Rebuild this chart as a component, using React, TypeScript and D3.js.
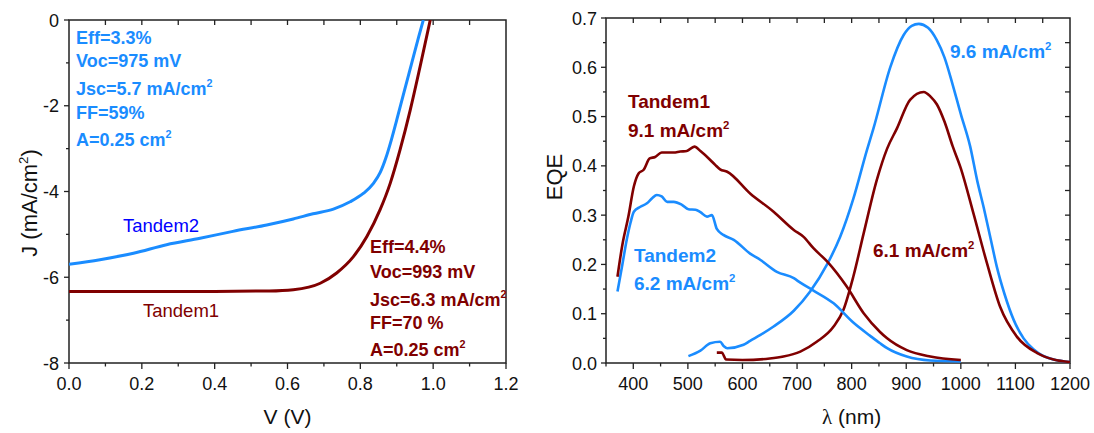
import React from "react";
import * as d3 from "d3";

// ---------- Data ----------
// J-V curves (V in volts, J in mA/cm^2)
const tandem2JV: [number, number][] = [
  [0.0, -5.7], [0.085, -5.59], [0.177, -5.44], [0.268, -5.24], [0.36, -5.09],
  [0.45, -4.93], [0.543, -4.78], [0.616, -4.64], [0.67, -4.52], [0.726, -4.41],
  [0.772, -4.24], [0.809, -4.04], [0.836, -3.81], [0.855, -3.55], [0.87, -3.22],
  [0.885, -2.8], [0.9, -2.33], [0.92, -1.68], [0.94, -1.04], [0.96, -0.4], [0.973, 0.0],
];
const tandem1JV: [number, number][] = [
  [0.0, -6.33], [0.2, -6.33], [0.4, -6.33], [0.55, -6.32], [0.616, -6.29],
  [0.69, -6.14], [0.735, -5.9], [0.781, -5.52], [0.818, -5.05], [0.854, -4.43],
  [0.882, -3.81], [0.909, -3.03], [0.937, -2.1], [0.964, -1.09], [0.992, 0.0],
];

// EQE curves (wavelength nm, EQE)
const tandem1Front: [number, number][] = [
  [371, 0.175], [380, 0.24], [391, 0.297], [401, 0.358], [410, 0.385], [419, 0.392],
  [430, 0.415], [440, 0.418], [452, 0.427], [474, 0.427], [486, 0.429], [498, 0.43],
  [512, 0.439], [523, 0.43], [541, 0.412], [550, 0.402], [559, 0.393], [572, 0.388],
  [614, 0.344], [657, 0.307], [694, 0.27], [712, 0.256], [730, 0.233], [755, 0.206],
  [791, 0.155], [822, 0.101], [852, 0.063], [865, 0.05], [901, 0.026], [944, 0.013],
  [1000, 0.006],
];
const tandem2Front: [number, number][] = [
  [371, 0.145], [380, 0.2], [388, 0.25], [395, 0.285], [401, 0.307], [413, 0.317],
  [425, 0.324], [435, 0.335], [443, 0.341], [452, 0.338], [462, 0.327], [474, 0.327],
  [489, 0.321], [501, 0.312], [514, 0.311], [523, 0.306], [535, 0.297], [544, 0.3],
  [553, 0.272], [565, 0.26], [584, 0.25], [614, 0.222], [633, 0.209], [663, 0.185],
  [694, 0.172], [706, 0.163], [730, 0.147], [767, 0.121], [803, 0.082], [834, 0.055],
  [852, 0.04], [865, 0.03], [901, 0.013], [944, 0.005], [1000, 0.003],
];
const tandem1Rear: [number, number][] = [
  [553, 0.021], [562, 0.021], [570, 0.007], [600, 0.006], [650, 0.009], [675, 0.013],
  [706, 0.023], [736, 0.043], [767, 0.074], [785, 0.108], [803, 0.175], [822, 0.263],
  [846, 0.371], [865, 0.435], [883, 0.476], [907, 0.534], [932, 0.55], [945, 0.54],
  [956, 0.525], [970, 0.49], [985, 0.44], [1000, 0.395], [1023, 0.304], [1048, 0.202],
  [1072, 0.114], [1103, 0.053], [1140, 0.02], [1170, 0.007], [1200, 0.002],
];
const tandem2Rear: [number, number][] = [
  [501, 0.014], [523, 0.025], [541, 0.04], [559, 0.043], [566, 0.034], [572, 0.03],
  [602, 0.037], [614, 0.045], [633, 0.057], [657, 0.074], [694, 0.106], [724, 0.145],
  [755, 0.2], [779, 0.256], [803, 0.333], [828, 0.432], [840, 0.476], [871, 0.601],
  [895, 0.665], [910, 0.684], [923, 0.688], [940, 0.68], [956, 0.655], [970, 0.62],
  [985, 0.565], [1000, 0.505], [1017, 0.44], [1030, 0.37], [1042, 0.315], [1055, 0.25],
  [1066, 0.195], [1080, 0.14], [1097, 0.087], [1115, 0.05], [1133, 0.028], [1150, 0.015],
  [1170, 0.007], [1200, 0.002],
];

const vTicks = [0, 0.2, 0.4, 0.6, 0.8, 1.0, 1.2];
const jTicks = [0, -2, -4, -6, -8];
const lamTicks = [400, 500, 600, 700, 800, 900, 1000, 1100, 1200];
const eqeTicks = [0, 0.1, 0.2, 0.3, 0.4, 0.5, 0.6, 0.7];

const tandem2Stats = ["Eff=3.3%", "Voc=975 mV", "Jsc=5.7 mA/cm", "FF=59%", "A=0.25 cm"];
const tandem1Stats = ["Eff=4.4%", "Voc=993 mV", "Jsc=6.3 mA/cm", "FF=70 %", "A=0.25 cm"];

// ---------- Styles ----------
const BLUE = "#1a8cff";
const RED = "#800000";
const AX = "#222";
const FONT = "'Liberation Sans', Arial, Helvetica, sans-serif";

const range = (a: number, b: number, s: number) => {
  const out: number[] = [];
  for (let v = a; v <= b + 1e-9; v += s) out.push(+v.toFixed(6));
  return out;
};

function Sup({ children }: { children: string }) {
  return (
    <tspan fontSize="0.6em" dy="-0.7em">
      {children}
    </tspan>
  );
}

export default function App() {
  // Left panel scales
  const xV = d3.scaleLinear().domain([0, 1.2]).range([69, 506]);
  const yJ = d3.scaleLinear().domain([-8, 0]).range([363, 20]);
  // Right panel scales
  const xL = d3.scaleLinear().domain([350, 1200]).range([606, 1070]);
  const yE = d3.scaleLinear().domain([0, 0.7]).range([363, 18]);

  const lineJV = d3
    .line<[number, number]>()
    .x((d) => xV(d[0]))
    .y((d) => yJ(d[1]))
    .curve(d3.curveMonotoneX);
  const lineEQE = d3
    .line<[number, number]>()
    .x((d) => xL(d[0]))
    .y((d) => yE(d[1]))
    .curve(d3.curveMonotoneX);

  const statLines = (
    stats: string[],
    x: number,
    baselines: number[],
    color: string
  ) =>
    stats.map((s, i) => (
      <text
        key={s}
        x={x}
        y={baselines[i]}
        fill={color}
        fontWeight="bold"
        fontSize={18}
        fontFamily={FONT}
      >
        {s}
        {i === 2 || i === 4 ? <Sup>2</Sup> : null}
      </text>
    ));

  return (
    <svg
      width={1094}
      height={433}
      style={{ position: "absolute", left: 0, top: 0, background: "#fff" }}
      fontFamily={FONT}
    >
      <rect width={1094} height={433} fill="#fff" />
      {/* ---------- Left panel ---------- */}
      <g>
        <rect
          x={xV(0)}
          y={yJ(0)}
          width={xV(1.2) - xV(0)}
          height={yJ(-8) - yJ(0)}
          fill="none"
          stroke={AX}
          strokeWidth={1.5}
        />
        {range(0, 1.2, 0.1).map((v, i) => (
          <line
            key={"vb" + i}
            x1={xV(v)}
            x2={xV(v)}
            y1={yJ(-8)}
            y2={yJ(-8) + (i % 2 === 0 ? 6 : 3.5)}
            stroke={AX}
            strokeWidth={1.3}
          />
        ))}
        {range(0.1, 1.1, 0.1).map((v, i) => (
          <line
            key={"vt" + i}
            x1={xV(v)}
            x2={xV(v)}
            y1={yJ(0)}
            y2={yJ(0) + 5}
            stroke={AX}
            strokeWidth={1.3}
          />
        ))}
        {range(-8, 0, 1).map((v, i) => (
          <line
            key={"jl" + i}
            x1={xV(0)}
            x2={xV(0) - (i % 2 === 0 ? 5 : 3)}
            y1={yJ(v)}
            y2={yJ(v)}
            stroke={AX}
            strokeWidth={1.3}
          />
        ))}
        {vTicks.map((v) => (
          <text
            key={"vl" + v}
            x={xV(v)}
            y={390}
            textAnchor="middle"
            fontSize={18}
            fill="#111"
          >
            {d3.format(".1f")(v)}
          </text>
        ))}
        {jTicks.map((v) => (
          <text
            key={"jt" + v}
            x={59}
            y={yJ(v) + 6.5}
            textAnchor="end"
            fontSize={18}
            fill="#111"
          >
            {v}
          </text>
        ))}
        <text x={xV(0.6)} y={424} textAnchor="middle" fontSize={21} fill="#111">
          V (V)
        </text>
        <text
          transform={`translate(37,203) rotate(-90)`}
          textAnchor="middle"
          fontSize={22}
          fill="#111"
        >
          J (mA/cm
          <tspan fontSize="0.6em" dy="-0.7em">
            2
          </tspan>
          <tspan dy="0.42em">)</tspan>
        </text>
        <defs>
          <clipPath id="clipL">
            <rect x={xV(0)} y={yJ(0)} width={xV(1.2) - xV(0)} height={yJ(-8) - yJ(0)} />
          </clipPath>
        </defs>
        <g clipPath="url(#clipL)">
          <path d={lineJV(tandem1JV) || ""} fill="none" stroke={RED} strokeWidth={3} />
          <path d={lineJV(tandem2JV) || ""} fill="none" stroke={BLUE} strokeWidth={3} />
        </g>
        {statLines(tandem2Stats, 76, [44, 67, 95, 119, 146], BLUE)}
        {statLines(tandem1Stats, 370, [253, 278, 306, 329, 356], RED)}
        <text x={123} y={232} fill="#0000ff" fontSize={18.5}>
          Tandem2
        </text>
        <text x={143} y={317} fill={RED} fontSize={18.5}>
          Tandem1
        </text>
      </g>

      {/* ---------- Right panel ---------- */}
      <g>
        <rect
          x={xL(350)}
          y={yE(0.7)}
          width={xL(1200) - xL(350)}
          height={yE(0) - yE(0.7)}
          fill="none"
          stroke={AX}
          strokeWidth={1.5}
        />
        {range(350, 1200, 50).map((v, i) => (
          <line
            key={"lb" + i}
            x1={xL(v)}
            x2={xL(v)}
            y1={yE(0)}
            y2={yE(0) + (v % 100 === 0 ? 6 : 3.5)}
            stroke={AX}
            strokeWidth={1.3}
          />
        ))}
        {range(400, 1150, 50).map((v, i) => (
          <line
            key={"lt" + i}
            x1={xL(v)}
            x2={xL(v)}
            y1={yE(0.7)}
            y2={yE(0.7) + 5}
            stroke={AX}
            strokeWidth={1.3}
          />
        ))}
        {range(0, 0.7, 0.05).map((v, i) => (
          <line
            key={"el" + i}
            x1={xL(350)}
            x2={xL(350) - (i % 2 === 0 ? 5 : 3)}
            y1={yE(v)}
            y2={yE(v)}
            stroke={AX}
            strokeWidth={1.3}
          />
        ))}
        {range(0.05, 0.65, 0.05).map((v, i) => (
          <line
            key={"er" + i}
            x1={xL(1200)}
            x2={xL(1200) - 5}
            y1={yE(v)}
            y2={yE(v)}
            stroke={AX}
            strokeWidth={1.3}
          />
        ))}
        {lamTicks.map((v) => (
          <text
            key={"lbl" + v}
            x={xL(v)}
            y={390}
            textAnchor="middle"
            fontSize={18}
            fill="#111"
          >
            {v}
          </text>
        ))}
        {eqeTicks.map((v) => (
          <text
            key={"etl" + v}
            x={597}
            y={yE(v) + 6.5}
            textAnchor="end"
            fontSize={18}
            fill="#111"
          >
            {d3.format(".1f")(v)}
          </text>
        ))}
        <text x={xL(800)} y={424} textAnchor="middle" fontSize={21} fill="#111">
          <tspan fontFamily="'Liberation Serif', 'DejaVu Serif', serif">λ</tspan> (nm)
        </text>
        <text
          transform={`translate(562,177) rotate(-90)`}
          textAnchor="middle"
          fontSize={22}
          fill="#111"
        >
          EQE
        </text>
        <path d={lineEQE(tandem2Rear) || ""} fill="none" stroke={BLUE} strokeWidth={2.6} />
        <path d={lineEQE(tandem1Rear) || ""} fill="none" stroke={RED} strokeWidth={2.6} />
        <path d={lineEQE(tandem2Front) || ""} fill="none" stroke={BLUE} strokeWidth={2.6} />
        <path d={lineEQE(tandem1Front) || ""} fill="none" stroke={RED} strokeWidth={2.6} />

        <g fontWeight="bold" fontSize={19}>
          <text x={628} y={108} fill={RED}>Tandem1</text>
          <text x={628} y={137} fill={RED}>
            9.1 mA/cm<Sup>2</Sup>
          </text>
          <text x={634} y={262} fill={BLUE}>Tandem2</text>
          <text x={634} y={290} fill={BLUE}>
            6.2 mA/cm<Sup>2</Sup>
          </text>
          <text x={950} y={58} fill={BLUE}>
            9.6 mA/cm<Sup>2</Sup>
          </text>
          <text x={873} y={257} fill={RED}>
            6.1 mA/cm<Sup>2</Sup>
          </text>
        </g>
      </g>
    </svg>
  );
}
